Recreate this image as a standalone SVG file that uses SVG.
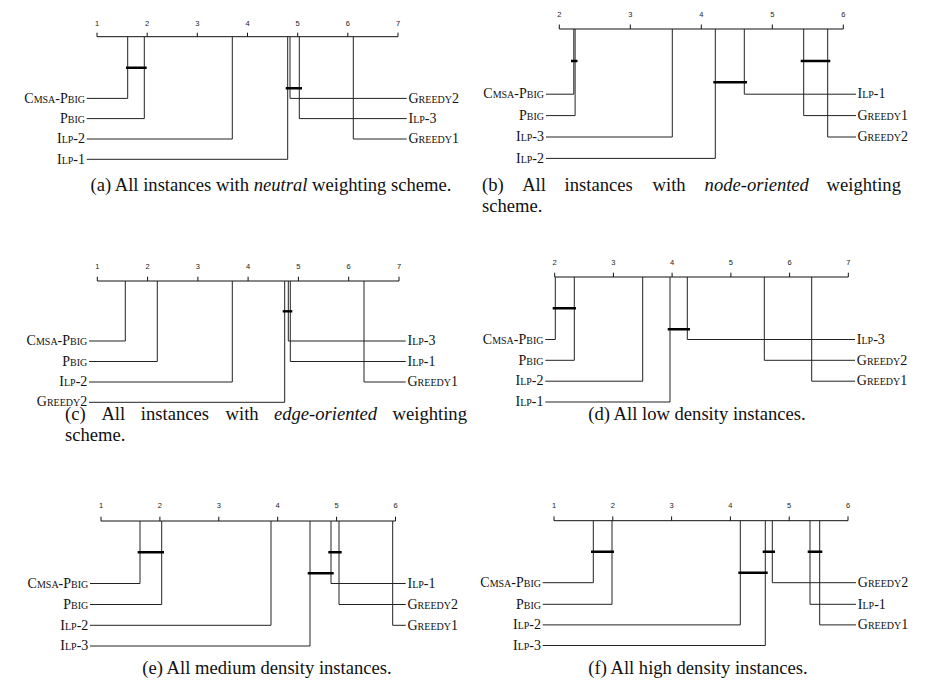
<svg xmlns="http://www.w3.org/2000/svg" width="926" height="688" viewBox="0 0 926 688">
<defs>
<style>
.ax{fill:none;stroke:#111;stroke-width:1}
.ln{fill:none;stroke:#222;stroke-width:1}
.bar{fill:none;stroke:#000;stroke-width:2.4}
.tk{font-family:"Liberation Sans",Arial,sans-serif;font-size:7.5px;fill:#222;text-anchor:middle}
.lb{font-family:"Liberation Serif","Times New Roman",serif;font-size:14px;font-variant:small-caps;fill:#111}
.l{text-anchor:end}
.cap{font-family:"Liberation Serif","Times New Roman",serif;font-size:18.6px;fill:#111}
.c{text-anchor:middle}
</style>
</defs>
<rect width="926" height="688" fill="#fff"/>

<!-- Panel (a) -->
<g id="panel-a">
<g id="a-axis">
<path class="ax" d="M97 36.7H398M97 36.7V32.7M147.2 36.7V32.7M197.3 36.7V32.7M247.5 36.7V32.7M297.7 36.7V32.7M347.8 36.7V32.7M398 36.7V32.7"/>
<text class="tk" x="97" y="25.5">1</text><text class="tk" x="147.2" y="25.5">2</text><text class="tk" x="197.3" y="25.5">3</text><text class="tk" x="247.5" y="25.5">4</text><text class="tk" x="297.7" y="25.5">5</text><text class="tk" x="347.8" y="25.5">6</text><text class="tk" x="398" y="25.5">7</text>
</g>
<g id="a-connectors">
<path class="ln" d="M127.7 36.7V98.4H86.7M144.3 36.7V118.6H86.7M232.3 36.7V139H86.7M287.7 36.7V159.3H86.7M290 36.7V98.4H406.7M299.3 36.7V118.6H406.7M353.3 36.7V139H406.7"/>
<path class="bar" d="M126 67.7H146.7M285.7 88.3H302"/>
</g>
<g id="a-cmsa-pbig"><text class="lb l" x="85" y="102.6">Cmsa-Pbig</text></g>
<g id="a-pbig"><text class="lb l" x="85" y="122.8">Pbig</text></g>
<g id="a-ilp-2"><text class="lb l" x="85" y="143.2">Ilp-2</text></g>
<g id="a-ilp-1"><text class="lb l" x="85" y="163.5">Ilp-1</text></g>
<g id="a-greedy2"><text class="lb" x="408.5" y="102.6">Greedy2</text></g>
<g id="a-ilp-3"><text class="lb" x="408.5" y="122.8">Ilp-3</text></g>
<g id="a-greedy1"><text class="lb" x="408.5" y="143.2">Greedy1</text></g>
<text class="cap c" x="271" y="190.5">(a) All instances with <tspan font-style="italic">neutral</tspan> weighting scheme.</text>
</g>

<!-- Panel (b) -->
<g id="panel-b">
<g id="b-axis">
<path class="ax" d="M559.3 29H843.3M559.3 29V24.5M630.3 29V24.5M701.3 29V24.5M772.3 29V24.5M843.3 29V24.5"/>
<text class="tk" x="559.3" y="16.5">2</text><text class="tk" x="630.3" y="16.5">3</text><text class="tk" x="701.3" y="16.5">4</text><text class="tk" x="772.3" y="16.5">5</text><text class="tk" x="843.3" y="16.5">6</text>
</g>
<g id="b-connectors">
<path class="ln" d="M573.8 29V94.2H546M575.1 29V115.6H546M672.3 29V137H546M715.3 29V158.4H546M744.3 29V94.2H856M803.7 29V115.6H856M827.7 29V137H856"/>
<path class="bar" d="M571 61H577.5M713.3 82.3H747M800.7 61H830.3"/>
</g>
<g id="b-cmsa-pbig"><text class="lb l" x="544" y="98.4">Cmsa-Pbig</text></g>
<g id="b-pbig"><text class="lb l" x="544" y="119.8">Pbig</text></g>
<g id="b-ilp-3"><text class="lb l" x="544" y="141.2">Ilp-3</text></g>
<g id="b-ilp-2"><text class="lb l" x="544" y="162.6">Ilp-2</text></g>
<g id="b-ilp-1"><text class="lb" x="857.5" y="98.4">Ilp-1</text></g>
<g id="b-greedy1"><text class="lb" x="857.5" y="119.8">Greedy1</text></g>
<g id="b-greedy2"><text class="lb" x="857.5" y="141.2">Greedy2</text></g>
<text class="cap" y="190.5"><tspan x="482">(b)</tspan><tspan x="522.2">All</tspan><tspan x="564.6">instances</tspan><tspan x="652.6">with</tspan><tspan x="704.6" font-style="italic">node-oriented</tspan><tspan x="826.6">weighting</tspan></text>
<text class="cap" x="482" y="212">scheme.</text>
</g>

<!-- Panel (c) -->
<g id="panel-c">
<g id="c-axis">
<path class="ax" d="M97.3 281H399M97.3 281V276.7M147.6 281V276.7M197.9 281V276.7M248.1 281V276.7M298.4 281V276.7M348.7 281V276.7M399 281V276.7"/>
<text class="tk" x="97.3" y="268.7">1</text><text class="tk" x="147.6" y="268.7">2</text><text class="tk" x="197.9" y="268.7">3</text><text class="tk" x="248.1" y="268.7">4</text><text class="tk" x="298.4" y="268.7">5</text><text class="tk" x="348.7" y="268.7">6</text><text class="tk" x="399" y="268.7">7</text>
</g>
<g id="c-connectors">
<path class="ln" d="M125.3 281V341H89M157.3 281V361.5H89M232.3 281V382H89M284.7 281V402.3H89M288.3 281V341H405.7M290.3 281V361.5H405.7M364 281V382H405.7"/>
<path class="bar" d="M282.7 311.3H292.3"/>
</g>
<g id="c-cmsa-pbig"><text class="lb l" x="87.3" y="345.2">Cmsa-Pbig</text></g>
<g id="c-pbig"><text class="lb l" x="87.3" y="365.7">Pbig</text></g>
<g id="c-ilp-2"><text class="lb l" x="87.3" y="386.2">Ilp-2</text></g>
<g id="c-greedy2"><text class="lb l" x="87.3" y="406.2">Greedy2</text></g>
<g id="c-ilp-3"><text class="lb" x="407.5" y="345.2">Ilp-3</text></g>
<g id="c-ilp-1"><text class="lb" x="407.5" y="365.7">Ilp-1</text></g>
<g id="c-greedy1"><text class="lb" x="407.5" y="386.2">Greedy1</text></g>
<text class="cap" y="420"><tspan x="65">(c)</tspan><tspan x="101.4">All</tspan><tspan x="140.8">instances</tspan><tspan x="225.6">with</tspan><tspan x="273.9" font-style="italic">edge-oriented</tspan><tspan x="392.6">weighting</tspan></text>
<text class="cap" x="65" y="441">scheme.</text>
</g>

<!-- Panel (d) -->
<g id="panel-d">
<g id="d-axis">
<path class="ax" d="M554.7 277H848.3M554.7 277V272.7M613.4 277V272.7M672.1 277V272.7M730.9 277V272.7M789.6 277V272.7M848.3 277V272.7"/>
<text class="tk" x="554.7" y="265">2</text><text class="tk" x="613.4" y="265">3</text><text class="tk" x="672.1" y="265">4</text><text class="tk" x="730.9" y="265">5</text><text class="tk" x="789.6" y="265">6</text><text class="tk" x="848.3" y="265">7</text>
</g>
<g id="d-connectors">
<path class="ln" d="M555.3 277V339.5H545.3M574.3 277V360.3H545.3M642.7 277V381.2H545.3M670 277V402H545.3M687.3 277V339.5H855M764.3 277V360.3H855M811.7 277V381.2H855"/>
<path class="bar" d="M552.7 308.3H576M667.7 329.3H690"/>
</g>
<g id="d-cmsa-pbig"><text class="lb l" x="543.5" y="343.7">Cmsa-Pbig</text></g>
<g id="d-pbig"><text class="lb l" x="543.5" y="364.5">Pbig</text></g>
<g id="d-ilp-2"><text class="lb l" x="543.5" y="385.4">Ilp-2</text></g>
<g id="d-ilp-1"><text class="lb l" x="543.5" y="406.2">Ilp-1</text></g>
<g id="d-ilp-3"><text class="lb" x="856.8" y="343.7">Ilp-3</text></g>
<g id="d-greedy2"><text class="lb" x="856.8" y="364.5">Greedy2</text></g>
<g id="d-greedy1"><text class="lb" x="856.8" y="385.4">Greedy1</text></g>
<text class="cap c" x="697" y="419.5">(d) All low density instances.</text>
</g>

<!-- Panel (e) -->
<g id="panel-e">
<g id="e-axis">
<path class="ax" d="M101 521H395.5M101 521V516.7M159.9 521V516.7M218.8 521V516.7M277.7 521V516.7M336.6 521V516.7M395.5 521V516.7"/>
<text class="tk" x="101" y="508.3">1</text><text class="tk" x="159.9" y="508.3">2</text><text class="tk" x="218.8" y="508.3">3</text><text class="tk" x="277.7" y="508.3">4</text><text class="tk" x="336.6" y="508.3">5</text><text class="tk" x="395.5" y="508.3">6</text>
</g>
<g id="e-connectors">
<path class="ln" d="M140 521V583.5H90M161.7 521V604.5H90M271 521V625.3H90M310 521V646H90M331 521V583.5H405.7M339 521V604.5H405.7M392.7 521V625.3H405.7"/>
<path class="bar" d="M137.7 552.3H164M328.3 552.3H341.7M307.7 573.3H333.7"/>
</g>
<g id="e-cmsa-pbig"><text class="lb l" x="88.3" y="587.7">Cmsa-Pbig</text></g>
<g id="e-pbig"><text class="lb l" x="88.3" y="608.7">Pbig</text></g>
<g id="e-ilp-2"><text class="lb l" x="88.3" y="629.5">Ilp-2</text></g>
<g id="e-ilp-3"><text class="lb l" x="88.3" y="650.2">Ilp-3</text></g>
<g id="e-ilp-1"><text class="lb" x="407.5" y="587.7">Ilp-1</text></g>
<g id="e-greedy2"><text class="lb" x="407.5" y="608.7">Greedy2</text></g>
<g id="e-greedy1"><text class="lb" x="407.5" y="629.5">Greedy1</text></g>
<text class="cap c" x="267" y="674">(e) All medium density instances.</text>
</g>

<!-- Panel (f) -->
<g id="panel-f">
<g id="f-axis">
<path class="ax" d="M554 520.7H848M554 520.7V516.4M612.8 520.7V516.4M671.6 520.7V516.4M730.4 520.7V516.4M789.2 520.7V516.4M848 520.7V516.4"/>
<text class="tk" x="554" y="508">1</text><text class="tk" x="612.8" y="508">2</text><text class="tk" x="671.6" y="508">3</text><text class="tk" x="730.4" y="508">4</text><text class="tk" x="789.2" y="508">5</text><text class="tk" x="848" y="508">6</text>
</g>
<g id="f-connectors">
<path class="ln" d="M593.3 520.7V582.7H542.7M612 520.7V604.3H542.7M740.3 520.7V624.9H542.7M765.3 520.7V645.5H542.7M772.3 520.7V582.7H856M810 520.7V604.3H856M819.7 520.7V624.9H856"/>
<path class="bar" d="M591 551.7H614M762.7 551.7H775M807.7 551.7H822.3M738.3 572.7H767.7"/>
</g>
<g id="f-cmsa-pbig"><text class="lb l" x="541" y="586.9">Cmsa-Pbig</text></g>
<g id="f-pbig"><text class="lb l" x="541" y="608.5">Pbig</text></g>
<g id="f-ilp-2"><text class="lb l" x="541" y="629.1">Ilp-2</text></g>
<g id="f-ilp-3"><text class="lb l" x="541" y="649.7">Ilp-3</text></g>
<g id="f-greedy2"><text class="lb" x="857.8" y="586.9">Greedy2</text></g>
<g id="f-ilp-1"><text class="lb" x="857.8" y="608.5">Ilp-1</text></g>
<g id="f-greedy1"><text class="lb" x="857.8" y="629.1">Greedy1</text></g>
<text class="cap c" x="698" y="674">(f) All high density instances.</text>
</g>
</svg>
